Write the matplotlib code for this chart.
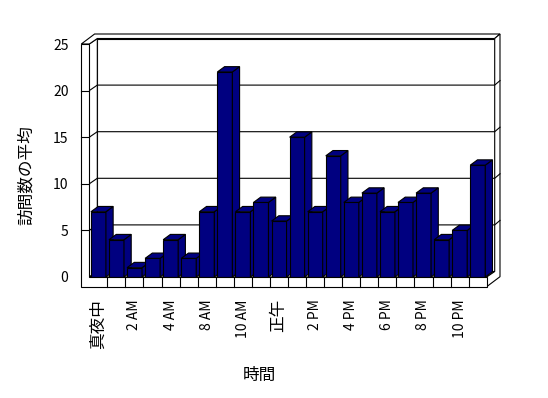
import matplotlib
matplotlib.use('Agg')
from matplotlib import pyplot as plt
from matplotlib.patches import Polygon

plt.rcParams['font.family'] = ['Noto Sans CJK JP', 'DejaVu Sans']

# 時間別の訪問数の平均 (6 AM / 7 AM はデータなし)
hours = [0, 1, 2, 3, 4, 5, 8, 9, 10, 11, 12, 13, 14, 15, 16, 17, 18, 19, 20, 21, 22, 23]
visits = [7, 4, 1, 2, 4, 2, 7, 22, 7, 8, 6, 15, 7, 13, 8, 9, 7, 8, 9, 4, 5, 12]
tick_labels = ['真夜中', '2 AM', '4 AM', '8 AM', '10 AM', '正午',
               '2 PM', '4 PM', '6 PM', '8 PM', '10 PM']
y_ticks = [0, 5, 10, 15, 20, 25]

NAVY = '#000080'
LW = 0.8
n = len(hours)
ymax = y_ticks[-1]

# décalages de profondeur (unités de données : catégories / valeurs)
bar_dx, bar_dy = 0.40, 0.57      # profondeur des barres
wall_dx, wall_dy = 0.443, 0.59   # face intérieure du mur du fond
box_dx, box_dy = 0.736, 1.073    # bord extérieur du mur du fond
thick_x, thick_y = 0.443, 1.04   # épaisseur du mur gauche / du sol

fig = plt.figure(figsize=(5.48, 3.98), dpi=100)
ax = fig.add_axes([89.3 / 548, 121 / 398, 397.4 / 548, 233 / 398])
ax.set_xlim(0, n)
ax.set_ylim(0, ymax)
for s in ax.spines.values():
    s.set_visible(False)


def poly(pts, fc='white', z=1.0):
    ax.add_patch(Polygon(pts, closed=True, fc=fc, ec='black', lw=LW,
                         joinstyle='miter', clip_on=False, zorder=z))


def line(xs, ys, z=1.5):
    ax.plot(xs, ys, color='black', lw=LW, clip_on=False, zorder=z,
            solid_joinstyle='miter')


# mur du fond
poly([(wall_dx, wall_dy), (n + wall_dx, wall_dy),
      (n + wall_dx, ymax + wall_dy), (wall_dx, ymax + wall_dy)])
# mur gauche (face intérieure) et sol
poly([(0, 0), (wall_dx, wall_dy), (wall_dx, ymax + wall_dy), (0, ymax)])
poly([(0, 0), (n, 0), (n + wall_dx, wall_dy), (wall_dx, wall_dy)])
# dessus des murs
poly([(-thick_x, ymax), (0, ymax), (wall_dx, ymax + wall_dy),
      (n + wall_dx, ymax + wall_dy), (n + box_dx, ymax + box_dy),
      (-thick_x + box_dx, ymax + box_dy)])
# côté droit
poly([(n, -thick_y), (n + box_dx, -thick_y + box_dy), (n + box_dx, ymax + box_dy),
      (n + wall_dx, ymax + wall_dy), (n + wall_dx, wall_dy), (n, 0)])

# quadrillage
for v in y_ticks[1:-1]:
    line([0, wall_dx, n + wall_dx, n + box_dx],
         [v, v + wall_dy, v + wall_dy, v + box_dy])

# barres 3D
for i, v in enumerate(visits):
    x0, x1 = i + 0.09, i + 0.92
    z = 3 + i * 0.01
    poly([(x0, 0), (x1, 0), (x1, v), (x0, v)], NAVY, z)
    poly([(x1, 0), (x1 + bar_dx, bar_dy), (x1 + bar_dx, v + bar_dy), (x1, v)], NAVY, z)
    poly([(x0, v), (x1, v), (x1 + bar_dx, v + bar_dy), (x0 + bar_dx, v + bar_dy)], NAVY, z)

# tranche avant (mur gauche + sol)
poly([(-thick_x, -thick_y), (n, -thick_y), (n, 0), (0, 0), (0, ymax),
      (-thick_x, ymax)], z=4)
for i in range(1, n):
    line([i, i], [-thick_y, 0], z=4.5)
for v in y_ticks[1:-1]:
    line([-thick_x, 0], [v, v], z=4.5)

# axes
ax.set_yticks(y_ticks)
ax.set_yticklabels([str(v) for v in y_ticks])
ax.tick_params(axis='y', length=0, pad=15, labelsize=10)
ax.set_xticks([k + 0.5 for k in range(0, n, 2)])
ax.set_xticklabels(tick_labels, rotation=90)
ax.tick_params(axis='x', length=0, pad=16)
for lab in ax.get_xticklabels():
    txt = lab.get_text()
    lab.set_fontsize(12 if any(ord(c) > 0x3000 for c in txt) else 10)

ax.set_ylabel('訪問数の平均', fontsize=12, va='center')
ax.yaxis.set_label_coords(-0.159, 0.438)
ax.set_xlabel('時間', fontsize=12)
ax.xaxis.set_label_coords(0.427, -0.423)
ax.xaxis.label.set_va('center')

plt.savefig('out.png', dpi=100)
